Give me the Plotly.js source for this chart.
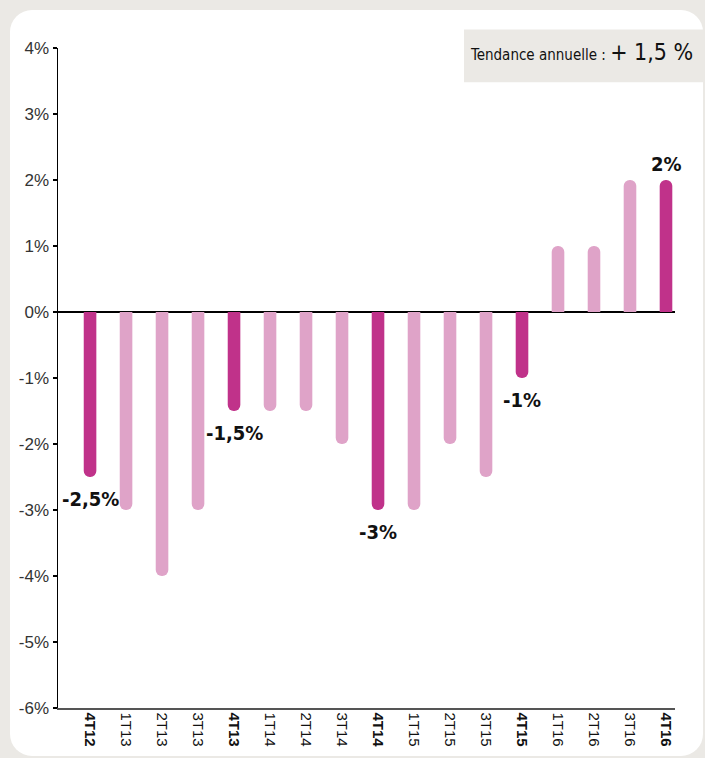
<!DOCTYPE html>
<html>
<head>
<meta charset="utf-8">
<script src="https://cdn.plot.ly/plotly-3.0.1.min.js"></script>
<style>
  html, body { margin:0; padding:0; background:#ebe9e5; width:705px; height:758px; overflow:hidden; }
  #panel { position:absolute; left:10px; top:10px; width:693px; height:746px; background:#ffffff; border-radius:22px; }
  #chart { position:absolute; left:0; top:0; width:705px; height:758px; }
</style>
</head>
<body>
<div id="panel"></div>
<div id="chart"></div>
<script>
const quarters = ["4T12","1T13","2T13","3T13","4T13","1T14","2T14","3T14","4T14","1T15","2T15","3T15","4T15","1T16","2T16","3T16","4T16"];
const values   = [-2.5, -3, -4, -3, -1.5, -1.5, -1.5, -2, -3, -3, -2, -2.5, -1, 1, 1, 2, 2];
const labelQuarters = ["4T12","4T13","4T14","4T15","4T16"];
const labelTexts    = ["-2,5%","-1,5%","-3%","-1%","2%"];
const yTickVals  = [4, 3, 2, 1, 0, -1, -2, -3, -4, -5, -6];
const yTickTexts = ["4%","3%","2%","1%","0%","-1%","-2%","-3%","-4%","-5%","-6%"];

const darkColor = "#c0328a";
const lightColor = "#dfa3c8";
const isQ4 = q => q.startsWith("4T");

const trace = {
  type: "bar",
  x: quarters,
  y: values,
  width: 0.35,
  marker: { color: quarters.map(q => isQ4(q) ? darkColor : lightColor), line: {width: 0} },
  hoverinfo: "none"
};

const narrow = "'DejaVu Sans Condensed', 'Liberation Sans Narrow', Arial, sans-serif";

const annotations = labelQuarters.map((q, i) => {
  const v = values[quarters.indexOf(q)];
  return {
    x: q, y: v, xref: "x", yref: "y",
    text: labelTexts[i], showarrow: false,
    yshift: v < 0 ? -22 : 16,
    font: { family: narrow, size: 20, color: "#111", weight: 600 }
  };
});

annotations.push({
  xref: "paper", yref: "paper", x: 1.0, y: 1.0,
  xanchor: "right", yanchor: "middle",
  xshift: 20, yshift: -4,
  text: "<span style='font-size:15px'>Tendance annuelle : </span><span style='font-size:23px'>+ 1,5 %</span>",
  showarrow: false,
  font: { family: narrow, size: 15, color: "#111" }
});

const layout = {
  width: 705, height: 758,
  paper_bgcolor: "rgba(0,0,0,0)",
  plot_bgcolor: "rgba(0,0,0,0)",
  margin: { l: 58, r: 30, t: 48, b: 50 },
  showlegend: false,
  barcornerradius: 6,
  xaxis: {
    type: "category",
    range: [-0.89, 16.25],
    tickvals: quarters,
    ticktext: quarters.map(q => isQ4(q) ? "<b>" + q + "</b>" : q),
    tickangle: 90,
    ticks: "",
    showline: true, linecolor: "#555", linewidth: 1.5,
    showgrid: false, zeroline: false,
    tickfont: { family: "'Liberation Sans', Arial, sans-serif", size: 15, color: "#111" },
    fixedrange: true
  },
  yaxis: {
    range: [-6, 4],
    tickvals: yTickVals,
    ticktext: yTickTexts,
    ticks: "outside", ticklen: 4, tickwidth: 2, tickcolor: "#000",
    showline: true, linecolor: "#000", linewidth: 1.5,
    showgrid: false,
    zeroline: true, zerolinecolor: "#000", zerolinewidth: 2.5,
    tickfont: { family: "'Liberation Sans', Arial, sans-serif", size: 17, color: "#333" },
    fixedrange: true
  },
  shapes: [{
    type: "rect", xref: "paper", yref: "paper",
    x0: 0.658, x1: 1.1, y0: 0.948, y1: 1.028,
    fillcolor: "#ebe9e5", line: { width: 0 }, layer: "below"
  }],
  annotations: annotations
};

Plotly.newPlot("chart", [trace], layout, { staticPlot: true, displayModeBar: false });
</script>
</body>
</html>
